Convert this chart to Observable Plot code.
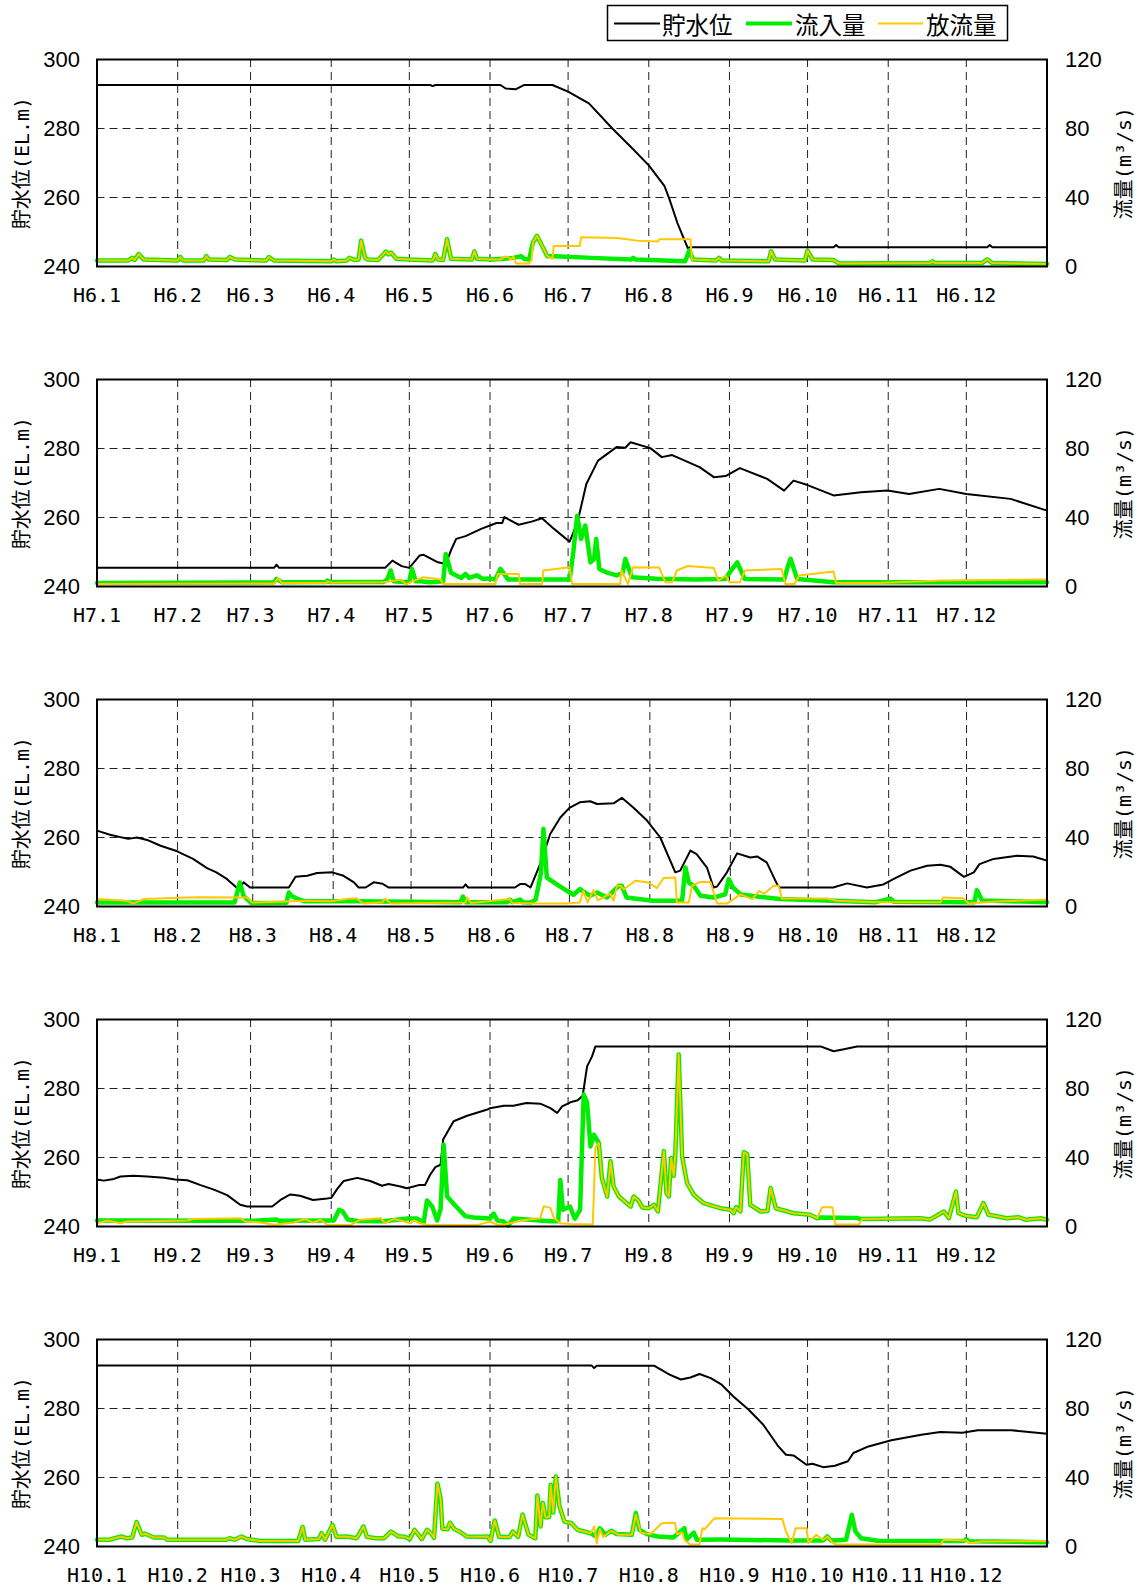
<!DOCTYPE html>
<html>
<head>
<meta charset="utf-8">
<script src="https://cdn.jsdelivr.net/npm/d3@7"></script>
<script src="https://cdn.jsdelivr.net/npm/@observablehq/plot@0.6"></script>
<style>
  html, body { margin: 0; padding: 0; background: #fff; }
  #root { width: 1146px; }
  svg { display: block; }
</style>
</head>
<body>
<div id="root"></div>
<script>
// ---- axis tick values / labels ----
const monthNumbers = [1,2,3,4,5,6,7,8,9,10,11,12];
const levelTicks = [240, 260, 280, 300];
const flowTicks = [0, 40, 80, 120];
const seriesNames = ["貯水位", "流入量", "放流量"];
const leftTitle = "貯水位(EL.m)";
const rightTitle = "流量(m³/s)";

// ---- data: [day of year (0 = Jan 1), value] ----
// 平成6年 (1994)
const h6Level = [[0,292.6],[128,292.6],[129,292.3],[130,292.6],[155,292.6],[157,291.6],[161,291.4],[164,292.6],[175,292.6],[181,290.7],[189,287.3],[198,280],[206,274],[212,269.3],[218,263.4],[220,259.4],[223,252.6],[227,245.3],[228,245.6],[283,245.6],[284,246.2],[285,245.6],[342,245.6],[343,246.2],[344,245.6],[365,245.6]];
const h6Inflow = [[0,3.5],[12,3.5],[13.5,5],[14.5,3.8],[16,7.2],[18,4],[31,3.5],[32,5.5],[33,3.5],[41,3.5],[42,6],[43,4],[50,3.8],[51,5.5],[53,4],[65,3.5],[66,5.5],[68,3.5],[90,3],[91,4],[92,3],[96,3.5],[97,5],[99,3.8],[100.5,4],[101.5,15],[103,5],[104,4],[108,3.8],[110,7],[111,8.6],[112,7],[113,8],[115,4.5],[120,4],[129,3.5],[130,7.2],[131,4],[133,3.8],[134.5,15.8],[136,4.5],[144,4],[145,8.8],[146,4.5],[152,4],[160,5],[163,6],[164,4.5],[166,4],[167.5,14],[169,17.8],[171,12],[173,6],[176,6],[190,5],[205,4],[206,5],[207,4],[226,3],[227.6,9.4],[229,4],[238,3.5],[239,5],[240,3.5],[258,3],[259,8.8],[260.5,4],[272,3.5],[273,9.2],[275,4],[283,3.7],[285,1.8],[320,2],[321,3],[322,2],[340,2],[342,4.1],[344,2],[365,1.5]];
const h6Outflow = [[0,3.5],[12,3.5],[13.5,5],[14.5,3.8],[16,7.2],[18,4],[31,3.5],[32,5.5],[33,3.5],[41,3.5],[42,6],[43,4],[50,3.8],[51,5.5],[53,4],[65,3.5],[66,5.5],[68,3.5],[90,3],[91,4],[92,3],[96,3.5],[97,5],[99,3.8],[100.5,4],[101.5,15],[103,5],[104,4],[108,3.8],[110,7],[111,8.6],[112,7],[113,8],[115,4.5],[120,4],[129,3.5],[130,7.2],[131,4],[133,3.8],[134.5,15.8],[136,4.5],[144,4],[145,8.8],[146,4.5],[152,4],[155,4.2],[157,5.8],[158,5.5],[159,4],[160,5.8],[161,1.8],[166,1.8],[167,4],[167.5,14],[169,17.8],[171,12],[173,6],[175,4.5],[175.5,11.9],[185.5,11.9],[186,17],[200,16.5],[207.5,15],[215.5,14.5],[216,15.8],[228,15.8],[228.6,4],[238,3.5],[239,5],[240,3.5],[258,3],[259,8.8],[260.5,4],[272,3.5],[273,9.2],[275,4],[283,3.7],[285,1.8],[320,2],[321,3],[322,2],[340,2],[342,4.1],[344,2],[365,1.5]];

// 平成7年 (1995)
const h7Level = [[0,245.4],[68,245.4],[69,246.3],[70,245.4],[110.7,245.4],[113.5,247.5],[117,245.9],[120,245.4],[124,249],[125.5,249.2],[131,247],[134,246.5],[136,250.5],[138,253.8],[141.6,254.6],[147.6,256.7],[153.5,258.4],[155.7,258.4],[156.5,260.1],[162,257.9],[167,258.8],[171,259.8],[175.6,256.7],[181.6,253],[184.6,258.6],[188,269.7],[192.5,276.5],[199.6,280.4],[203,280.2],[205,281.8],[212.6,280.1],[217,277.5],[221,278.1],[231.5,274.6],[237,271.7],[241.5,272],[247,274.3],[257.5,271.2],[264,267.8],[267.6,270.7],[273,269.4],[283,266.4],[293.5,267.3],[303.7,267.8],[312,266.8],[323.6,268.3],[334,266.8],[351,265.4],[365,262]];
const h7Inflow = [[0,2],[30,2.2],[60,2.3],[68,2.5],[69,4.4],[71,2.5],[88,2.6],[88.5,3.5],[89.5,2.6],[110,2.6],[111.5,4],[112.8,9.3],[114,3],[119,2.5],[120,3],[121,10.2],[122.5,3],[124,3],[128,2.5],[133,3],[134,18.9],[136,8],[138,6.4],[140,5],[141.6,7.3],[143,5],[146,6.5],[148,4.5],[151,4.7],[153,4],[155,10.2],[158,4],[170,4],[181.6,4],[183,20],[184.5,41],[186,27.6],[187.6,35.4],[189.6,14],[191,16],[191.8,27.6],[193,10.2],[196,8],[199.6,6.4],[202,8],[203,16],[205.5,5.4],[215,4.5],[230,4],[241.5,4.4],[243,8],[246,14],[248.8,4.4],[264,4],[265.5,12],[266.5,16],[269,4.4],[283,2.5],[300,2.5],[330,2.5],[365,2.5]];
const h7Outflow = [[0,1.5],[60,1.8],[68,1.8],[69.6,4.8],[71,2],[88,2],[88.5,3],[90,2.2],[110,2.5],[113,3],[116.6,4],[119,1.2],[121,3],[125.5,5.4],[130,4.5],[132,4],[133,1.5],[153,1.5],[154,7.3],[162,7.3],[162.5,1.5],[171,1.5],[171.5,9.3],[181.6,11.2],[182.5,1.5],[201,1.5],[201.5,9.3],[204,1.5],[206,11.2],[216,11],[218.4,2.5],[221,2.5],[222.8,9.3],[227,11.9],[237,10.7],[238.7,3.4],[241.5,6.4],[243,2.5],[247,2.5],[249,9.3],[263,10.2],[264.5,1.5],[268,1.5],[269.7,6.4],[283,8.7],[284,2],[300,2],[325,3.5],[365,4]];

// 平成8年 (1996)
const h8Level = [[0,262],[5,260.8],[12,259.6],[15.4,260],[19.3,259.3],[24.5,257.6],[30.9,256],[37,253.8],[42.4,251.1],[46,249.9],[50,248],[54.5,245],[56.5,247],[59,245.5],[73.9,245.5],[76.5,248.6],[81,248.9],[84.8,249.7],[90.6,249.9],[95,248.9],[99,247],[100.8,245.5],[103.5,245.5],[106.6,247],[110,246.6],[112.4,245.5],[141,245.5],[142,246.4],[143,245.5],[161,245.5],[163,246.5],[165,246.5],[167,245.5],[171,252.8],[174.6,261],[178.5,265.8],[182,268.6],[186,270.2],[190,270.5],[192.7,269.7],[199,269.9],[202.2,271.5],[206.6,268.7],[211.9,264.9],[217,260],[222.8,249.9],[224.7,250.4],[228.6,256.2],[231,255.2],[235,251.3],[237.5,245.5],[238.9,245.8],[242.7,249.9],[246.6,255.4],[251.7,254.2],[254.3,254.5],[258,252.8],[262,246.5],[263,245.5],[283.6,245.5],[289,246.7],[296.6,245.5],[303,246.4],[307,248],[313.4,250.4],[319.8,251.8],[325,252.1],[328.8,251.5],[334,248.6],[337.8,249.9],[340,252.3],[345.4,253.8],[354.4,254.7],[360.7,254.5],[366,253.3]];
const h8Inflow = [[0,2.3],[30,2.3],[53,2.3],[54,8],[55,13.9],[56.5,6],[59.5,2],[73,2.2],[73.9,8.1],[75,6],[77,4.6],[80,3],[100,3],[140,2.5],[141,5.8],[142,2.5],[158,2.5],[159,4],[160,2.5],[163,4],[164,2.5],[167,2.3],[169,4],[171,19],[172,45],[173.3,16.8],[177,13],[181,9.1],[183.6,6.8],[186,10.1],[190,6.2],[192.7,8.1],[196.5,5.2],[201,12],[202.2,12],[204,5.2],[214,3.3],[225.4,3.3],[226.7,22.6],[228,13.9],[229.9,12],[232.5,6.2],[237.6,5.2],[242,7],[243.4,15.9],[245,11],[248,7],[263,4.3],[283.6,3.3],[300,2.5],[305.6,4.6],[307,2.8],[338,2.5],[339,9.5],[341,3.5],[366,2.5]];
const h8Outflow = [[0,4.3],[11.5,3.3],[14,1.7],[18,4.3],[34.7,5.2],[40,5.4],[57.8,5.2],[59.8,2.3],[81,3.3],[90,3],[97.6,4.6],[100,4.6],[102.6,1.7],[110,2.5],[111,4.6],[113,1.7],[142,2.3],[142.6,5.2],[144,2],[159,4.3],[160,2],[168,1.7],[181,1.7],[186,2.3],[187.4,9.1],[189,2.3],[191.3,9.5],[193,3.5],[197.7,7.4],[199,3.3],[200.3,12],[201.7,12],[203,10],[207.4,14.9],[212.5,13.9],[215.7,10.7],[218.3,16.5],[222.8,16.8],[223.4,2.3],[228,2.3],[229.2,12],[232.5,14.3],[236.4,14],[238.9,1.7],[242.7,1.7],[247.9,7],[252.4,4.3],[255,9.1],[257,7.4],[260.7,12],[262.6,12],[263.9,4.6],[281.2,4.6],[285,3.3],[300,2.5],[325,2.5],[326,5.2],[333.7,4.8],[335.8,1.7],[346.6,2.9],[366,4]];

// 平成9年 (1997)
const h9Level = [[0,253.6],[2.6,253.3],[6.5,253.8],[9,254.5],[14,254.7],[19.3,254.5],[25.7,254.1],[30,253.6],[34.7,253.4],[39.8,252],[44.9,250.7],[50,249.1],[55,246.3],[57.7,245.8],[67.3,245.8],[70.5,247.7],[74.3,249.3],[78,248.9],[83,247.7],[88.4,248.1],[90,248.3],[92.3,250.9],[94.8,253.2],[100,254.1],[105,253.2],[109.5,251.8],[112,252.3],[116.6,251.6],[119,251.1],[121.7,251.6],[123.6,252],[126,252],[128,255],[130,257.2],[132,257.9],[133,265.2],[137,270.5],[142.2,272.1],[150,273.9],[151,274.3],[156.3,275],[160,275],[165,275.8],[170.3,275.6],[174.2,274.3],[176.8,272.9],[178.7,274.8],[181.9,276],[184.7,276.6],[186.6,277.9],[188.3,286.4],[190.2,289.3],[191.5,292.2],[278,292.2],[283,290.8],[287,291.4],[292,292.2],[365,292.2]];
const h9Inflow = [[0,3.5],[20,3.5],[40,3.3],[60,3.3],[69,4],[70,3.3],[88,3.5],[91,3.5],[93,9.7],[94.4,8.7],[96.3,4.1],[100,3.2],[110,3],[119.4,4.6],[123,4.6],[125.5,2.3],[126.8,15.1],[128.8,11.6],[130.7,3.5],[132,10],[133.2,47.4],[134.5,17.4],[137.7,12],[141.5,6],[144.7,5.2],[151,4.6],[152.4,7.5],[153.8,3.5],[156,3],[158,0.5],[160,4.6],[174,3],[177.2,3],[178,27],[179,9.7],[181.7,11.6],[183.6,4.6],[185.6,9.7],[187,76.5],[188.3,71.8],[189.6,46.4],[190.9,53.2],[192.8,48.4],[194,28],[196,17.4],[197.3,37.8],[198.5,23.2],[200.5,17.4],[205,11.6],[206.2,17.4],[208,15.1],[209.5,11],[212,10.6],[214,12.6],[215.5,8.7],[217.8,43.7],[218.8,19.3],[219.7,17.4],[220.6,39.7],[221.6,29.4],[222.2,42],[223.5,99.7],[224.8,40.6],[226.7,25.1],[229.3,18.4],[233,13.6],[239.5,10.6],[243.4,9.7],[244.6,7.7],[245.6,11.2],[247.2,8.7],[248.5,43],[249.8,42],[251,12.6],[255,8.7],[257.6,9],[258.8,22.3],[260.8,10.6],[267.7,7.7],[274,6.8],[276.7,4.8],[278,5.2],[292,5],[293.4,4.3],[316.4,4.8],[320,4],[325.4,8.7],[327.3,4.8],[330,20.3],[331,7.7],[333.7,6.2],[338,5.4],[340.6,13.6],[342.5,6.8],[349.6,4.8],[354,5.4],[357,3.9],[362.5,4.8],[365,3.9]];
const h9Outflow = [[0,1.9],[4,3.5],[9,1.9],[11.5,2.9],[34.7,3.5],[37,4.3],[55,4.8],[57,2.9],[62.8,2.3],[67.9,1],[75.6,2.3],[80,4.3],[83,2.3],[85.9,3.9],[88.4,1],[97.4,0.8],[101,3.9],[108.9,4.8],[110.7,1.9],[114,4.3],[116.6,3.5],[120.5,1.9],[121.7,3.5],[124.2,1.9],[126.8,1],[146,0.8],[151,2.9],[153.8,1],[156.3,1],[160,2.3],[162.7,3.5],[170.3,4.8],[171.6,11.8],[174.2,10.8],[175.5,5],[178,1.9],[182,1.5],[190.5,1.2],[191.5,46],[192.8,48.4],[194,28],[196,17.4],[197.3,37.8],[198.5,23.2],[200.5,17.4],[205,11.6],[206.2,17.4],[208,15.1],[209.5,11],[212,10.6],[214,12.6],[215.5,8.7],[217.8,43.7],[218.8,19.3],[219.7,17.4],[220.6,39.7],[221.6,29.4],[222.2,42],[223.5,99.7],[224.8,40.6],[226.7,25.1],[229.3,18.4],[233,13.6],[239.5,10.6],[243.4,9.7],[244.6,7.7],[245.6,11.2],[247.2,8.7],[248.5,43],[249.8,42],[251,12.6],[255,8.7],[257.6,9],[258.8,22.3],[260.8,10.6],[267.7,7.7],[274,6.8],[276.7,4.8],[278.6,11.2],[282.5,11.2],[283.7,1.2],[292.7,1.2],[294,4.3],[316.4,4.8],[320,4],[325.4,8.7],[327.3,4.8],[330,20.3],[331,7.7],[333.7,6.2],[338,5.4],[340.6,13.6],[342.5,6.8],[349.6,4.8],[354,5.4],[357,3.9],[362.5,4.8],[365,3.9]];

// 平成10年 (1998)
const h10Level = [[0,292.5],[190,292.5],[191,291.7],[192,292.4],[214,292.4],[220,289.8],[224.3,288.4],[228,289],[231.5,290],[235.8,288.8],[240,286.9],[244.5,283.5],[250.3,279.7],[256,275.3],[261.8,269],[264.7,266.6],[267.6,266.4],[272.6,263.7],[274.9,264],[279,263],[283.5,263.4],[288.5,264.7],[290.6,267.1],[296.4,269],[305.2,270.8],[316.7,272.4],[324,273.2],[332.5,273],[338.4,273.7],[351.3,273.7],[365,272.7]];
const h10Inflow = [[0,3.9],[4.7,3.9],[9.3,5.8],[11.3,4.8],[13.5,5.2],[15.2,14.2],[17.2,6.8],[18.5,7.4],[21.9,5.2],[25.8,5.2],[27,3.9],[49.6,3.9],[51,4.8],[52.8,3.9],[55.5,5.8],[57.5,4.3],[62.8,3.2],[77.3,3.2],[79,11.3],[80,3.9],[85.2,4.3],[86.3,7.7],[87.6,3.9],[90.5,12.6],[92,5.6],[95.8,5.8],[99.8,4.8],[102.4,11.6],[103.7,5.6],[107,4.8],[110.3,4.8],[113,8.7],[115.6,6],[118.3,5.6],[120.2,4.3],[122,9.7],[123.5,6.8],[124.8,4.3],[126.8,9.7],[128.8,6.8],[129.5,5],[130.8,36.4],[132,28],[132.7,10.3],[134.7,10],[135.6,13.8],[137.3,10],[139.3,8.7],[142,5.8],[148.6,5.6],[150,5.8],[151.2,3.2],[152.8,15.1],[154.5,5.6],[158.5,5.4],[159.8,8.7],[161.8,5.6],[163.5,18.6],[165.8,6.8],[168.4,4.8],[169.2,29.6],[170.4,11.6],[171.3,25.2],[172.3,17],[173.7,17],[174.3,35.8],[175.3,19.7],[176.3,40.6],[177.7,23.2],[179.6,14.5],[182.3,13.5],[184.6,9.7],[189.6,7.7],[191.8,5.8],[193.2,10.6],[195.4,6.8],[197.6,9.1],[199.7,7.2],[205.5,6.8],[207,19.4],[208.4,9.7],[211.3,7.2],[215.6,5.8],[221.4,5.2],[225.7,10.6],[226.5,3.9],[229.3,8.1],[230.5,3.9],[240,4],[266,3.5],[279,3.5],[280.6,5.8],[282,3.5],[287.8,3.9],[290,18.4],[291.4,8.7],[293.6,4.8],[300,3.3],[333,3.2],[334,4.3],[335,3],[365,2.5]];
const h10Outflow = [[0,3.9],[4.7,3.9],[9.3,5.8],[11.3,4.8],[13.5,5.2],[15.2,14.2],[17.2,6.8],[18.5,7.4],[21.9,5.2],[25.8,5.2],[27,3.9],[49.6,3.9],[51,4.8],[52.8,3.9],[55.5,5.8],[57.5,4.3],[62.8,3.2],[77.3,3.2],[79,11.3],[80,3.9],[85.2,4.3],[86.3,7.7],[87.6,3.9],[90.5,12.6],[92,5.6],[95.8,5.8],[99.8,4.8],[102.4,11.6],[103.7,5.6],[107,4.8],[110.3,4.8],[113,8.7],[115.6,6],[118.3,5.6],[120.2,4.3],[122,9.7],[123.5,6.8],[124.8,4.3],[126.8,9.7],[128.8,6.8],[129.5,5],[130.8,36.4],[132,28],[132.7,10.3],[134.7,10],[135.6,13.8],[137.3,10],[139.3,8.7],[142,5.8],[148.6,5.6],[150,5.8],[151.2,3.2],[152.8,15.1],[154.5,5.6],[158.5,5.4],[159.8,8.7],[161.8,5.6],[163.5,18.6],[165.8,6.8],[168.4,4.8],[169.2,29.6],[170.4,11.6],[171.3,25.2],[172.3,17],[173.7,17],[174.3,35.8],[175.3,19.7],[176.3,40.6],[177.7,23.2],[179.6,14.5],[182.3,13.5],[184.6,9.7],[189.6,7.7],[191,11.6],[192,1.9],[193.2,10],[194.5,5.5],[197.6,9.1],[200.5,6.8],[205.5,6.8],[207,18.4],[209,7.8],[212.7,7.2],[215,10.6],[217,13.5],[220,13.8],[222.1,13.5],[222.8,7.2],[224.9,8],[225.7,3.9],[227.9,1.2],[231.5,1.2],[232.6,10.6],[233.5,10],[235,12.6],[237.2,16.4],[263.3,15.9],[264.7,8.7],[266.9,1.9],[268.4,10.6],[272.6,10.6],[273.3,1.9],[276.3,6.8],[279,3.9],[280.6,5.8],[282.8,1.9],[284.2,1.2],[324,1.2],[325.4,3.9],[334,3.5],[335.5,1.9],[339.8,2.9],[365,3.2]];

const panels = [
  {era: 6, year: 1994, level: h6Level, inflow: h6Inflow, outflow: h6Outflow},
  {era: 7, year: 1995, level: h7Level, inflow: h7Inflow, outflow: h7Outflow},
  {era: 8, year: 1996, level: h8Level, inflow: h8Inflow, outflow: h8Outflow},
  {era: 9, year: 1997, level: h9Level, inflow: h9Inflow, outflow: h9Outflow},
  {era: 10, year: 1998, level: h10Level, inflow: h10Inflow, outflow: h10Outflow}
];

const COLORS = {level: "#000000", inflow: "#00ee00", outflow: "#ffc800"};
const root = document.getElementById("root");

// ---- legend (SVG text above the charts) ----
const legendNS = "http://www.w3.org/2000/svg";
const leg = document.createElementNS(legendNS, "svg");
leg.setAttribute("width", 1146); leg.setAttribute("height", 44);
leg.innerHTML = `
  <rect x="607.5" y="5.5" width="400" height="35" fill="#fff" stroke="#000" stroke-width="1.5"/>
  <line x1="614" x2="660" y1="23.5" y2="23.5" stroke="${COLORS.level}" stroke-width="2"/>
  <text x="662" y="24" dominant-baseline="central" font-family="'Noto Sans CJK JP'" font-size="23.5">${seriesNames[0]}</text>
  <line x1="746" x2="792" y1="23.5" y2="23.5" stroke="${COLORS.inflow}" stroke-width="4"/>
  <text x="795" y="24" dominant-baseline="central" font-family="'Noto Sans CJK JP'" font-size="23.5">${seriesNames[1]}</text>
  <line x1="878" x2="923" y1="23.5" y2="23.5" stroke="${COLORS.outflow}" stroke-width="2"/>
  <text x="926" y="24" dominant-baseline="central" font-family="'Noto Sans CJK JP'" font-size="23.5">${seriesNames[2]}</text>`;
root.appendChild(leg);

const monoFont = "'DejaVu Sans Mono', 'Noto Sans CJK JP', monospace";

for (const p of panels) {
  const start = new Date(Date.UTC(p.year, 0, 1));
  const end = new Date(Date.UTC(p.year + 1, 0, 1));
  const toDate = d => new Date(start.getTime() + d[0] * 864e5);
  const monthStarts = monthNumbers.map(m => new Date(Date.UTC(p.year, m - 1, 1)));
  const chart = Plot.plot({
    width: 1146,
    height: 320,
    marginLeft: 96.5,
    marginRight: 99.5,
    marginTop: 15,
    marginBottom: 98,
    style: {fontFamily: "'Liberation Sans', Arial, sans-serif", fontSize: "22px", color: "#000", background: "#fff"},
    x: {type: "utc", domain: [start, end], axis: null},
    y: {domain: [240, 300], axis: null},
    marks: [
      Plot.gridX(monthStarts.slice(1), {stroke: "#222", strokeOpacity: 1, strokeWidth: 1, strokeDasharray: "8,5"}),
      Plot.gridY([260, 280], {stroke: "#222", strokeOpacity: 1, strokeWidth: 1, strokeDasharray: "8,5"}),
      Plot.line(p.level, {x: toDate, y: d => d[1], stroke: COLORS.level, strokeWidth: 2, strokeLinejoin: "round"}),
      Plot.line(p.inflow, {x: toDate, y: d => 240 + d[1] / 2, stroke: COLORS.inflow, strokeWidth: 4.5, strokeLinejoin: "round"}),
      Plot.line(p.outflow, {x: toDate, y: d => 240 + d[1] / 2, stroke: COLORS.outflow, strokeWidth: 2, strokeLinejoin: "round"}),
      Plot.frame({stroke: "#000", strokeWidth: 2}),
      Plot.axisX(monthStarts, {anchor: "bottom", tickSize: 0, tickPadding: 21, fontFamily: monoFont, fontSize: 20,
        tickFormat: d => `H${p.era}.${d.getUTCMonth() + 1}`}),
      Plot.axisY(levelTicks, {anchor: "left", tickSize: 0, tickPadding: 17, fontSize: 22, label: null}),
      Plot.axisY(flowTicks.map(f => 240 + f / 2), {anchor: "right", tickSize: 0, tickPadding: 18, fontSize: 22, label: null,
        tickFormat: y => String((y - 240) * 2)}),
      Plot.text([leftTitle], {frameAnchor: "left", dx: -74, rotate: -90, textAnchor: "middle", lineAnchor: "middle",
        fontFamily: monoFont, fontSize: 20, text: d => d}),
      Plot.text([rightTitle], {frameAnchor: "right", dx: 78, rotate: -90, textAnchor: "middle", lineAnchor: "middle",
        fontFamily: monoFont, fontSize: 20, text: d => d})
    ]
  });
  root.appendChild(chart);
}
</script>
</body>
</html>
